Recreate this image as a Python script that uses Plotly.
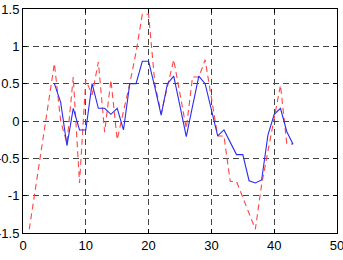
import plotly.graph_objects as go

# Red dashed series (x = 1..43)
red_x = list(range(1, 44))
red_y = [-1.45, -0.90, -0.34, 0.22, 0.77, 0.00, -0.30, 0.59, -0.83, 0.55,
         0.35, 0.79, -0.15, 0.55, -0.25, 0.13, 0.50, 0.92, 1.43, 1.43,
         0.50, 0.10, 0.46, 0.82, 0.36, -0.10, 0.59, 0.59, 0.82, 0.30,
         -0.20, -0.20, -0.81, -0.81, -1.02, -1.23, -1.45, -0.85, -0.40, 0.05,
         0.48, -0.30, -0.31]

# Blue solid series (x = 5..43)
blue_x = list(range(5, 44))
blue_y = [0.50, 0.25, -0.33, 0.17, -0.12, -0.12, 0.50, 0.17, 0.17, 0.09,
          0.17, -0.12, 0.50, 0.50, 0.80, 0.80, 0.45, 0.08, 0.50, 0.60,
          0.20, -0.21, 0.20, 0.60, 0.50, 0.15, -0.20, -0.12, -0.28, -0.45,
          -0.45, -0.80, -0.83, -0.79, -0.19, 0.09, 0.17, -0.14, -0.31]

x_ticks = [0, 10, 20, 30, 40, 50]
y_ticks = [-1.5, -1, -0.5, 0, 0.5, 1, 1.5]
y_tick_labels = ["-1.5", "-1", "-0.5", "0", "0.5", "1", "1.5"]

fig = go.Figure()
fig.add_trace(go.Scatter(x=red_x, y=red_y, mode="lines",
                         line=dict(color="#ff4545", width=1.1, dash="6px,4px")))
fig.add_trace(go.Scatter(x=blue_x, y=blue_y, mode="lines",
                         line=dict(color="#2b2bf0", width=1.1)))

axis_common = dict(showline=True, linecolor="black", linewidth=1, mirror="ticks",
                   ticks="inside", ticklen=4, tickcolor="black",
                   showgrid=True, gridcolor="#444444", gridwidth=1, griddash="6px,4px",
                   zeroline=False, ticklabeloverflow="allow",
                   tickfont=dict(family="Liberation Sans, Arial", size=13, color="black"))

fig.update_xaxes(range=[0, 50], tickvals=x_ticks, **axis_common)
fig.update_yaxes(range=[-1.5, 1.5], tickvals=y_ticks, ticktext=y_tick_labels, **axis_common)

fig.update_layout(width=343, height=260, showlegend=False,
                  margin=dict(l=23, r=6, t=9, b=27, autoexpand=False),
                  paper_bgcolor="white", plot_bgcolor="white")

fig.write_html("out.html")
